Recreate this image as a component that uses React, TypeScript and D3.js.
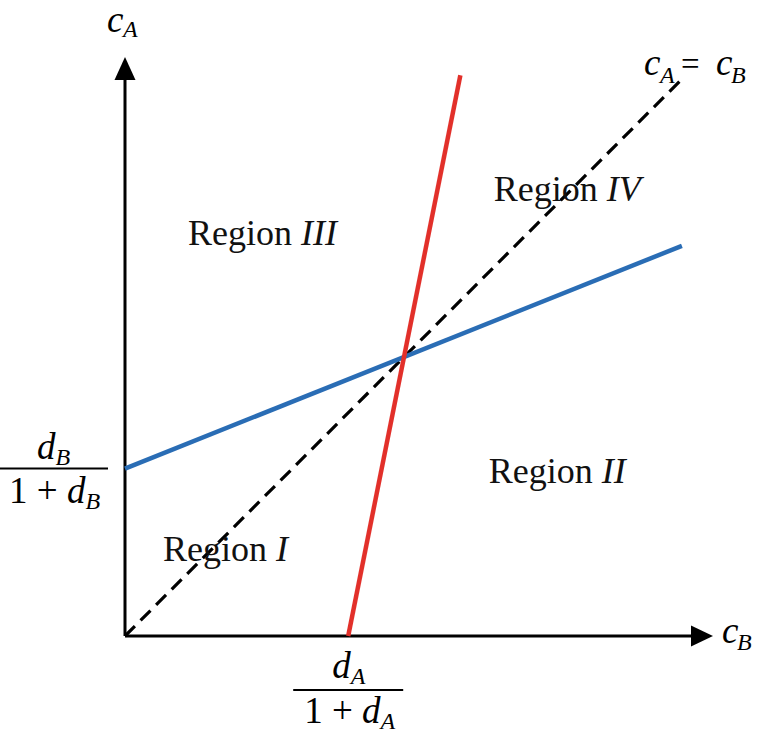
import React from "react";
import * as d3 from "d3";

const W = 759, H = 738;
// abstract units: c_B on x, c_A on y
const dAfrac = [0.4];          // d_A/(1+d_A)
const dBfrac = [0.3];          // d_B/(1+d_B)
const redLine = [[0.4, 0], [0.601, 1.005]];
const blueLine = [[0, 0.3], [0.998, 0.6992]];
const diagLine = [[0, 0], [1.0, 1.0]];
const regions = [
  { name: "Region ", roman: "III", x: 0.113, y: 0.701 },
  { name: "Region ", roman: "IV", x: 0.661, y: 0.78 },
  { name: "Region ", roman: "II", x: 0.652, y: 0.274 },
  { name: "Region ", roman: "I", x: 0.068, y: 0.134 },
];

const x = d3.scaleLinear().domain([0, 1]).range([125, 683]);
const y = d3.scaleLinear().domain([0, 1]).range([636, 78]);
const line = d3.line<number[]>().x(d => x(d[0])).y(d => y(d[1]));

const FONT = "'Liberation Serif', 'Times New Roman', serif";

export default function App() {
  const ox = x(0), oy = y(0);
  return (
    <svg width={W} height={H} style={{ position: "absolute", left: 0, top: 0 }} fontFamily={FONT}>
      <rect width={W} height={H} fill="#fff" />
      {/* axes */}
      <line x1={ox} y1={oy} x2={694} y2={oy} stroke="#000" strokeWidth={3} />
      <line x1={ox} y1={oy} x2={ox} y2={78} stroke="#000" strokeWidth={3} />
      <path d={`M${ox - 10.5},${80} L${ox},${57} L${ox + 10.5},${80} Z`} fill="#000" />
      <path d={`M${691},${oy - 10.5} L${713},${oy} L${691},${oy + 10.5} Z`} fill="#000" />
      {/* lines */}
      <path d={line(diagLine as any)!} fill="none" stroke="#000" strokeWidth={3.2} strokeDasharray="14 8" />
      <path d={line(blueLine as any)!} fill="none" stroke="#2a6db5" strokeWidth={4.5} />
      <path d={line(redLine as any)!} fill="none" stroke="#e2302a" strokeWidth={4.5} />
      {/* region labels */}
      {regions.map((r, i) => (
        <text key={i} x={x(r.x)} y={y(r.y)} fontSize={36} fill="#111">
          {r.name}<tspan fontStyle="italic">{r.roman}</tspan>
        </text>
      ))}
      {/* axis labels */}
      <text x={107} y={32} fontSize={37} fontStyle="italic">c</text>
      <text x={123} y={37} fontSize={24} fontStyle="italic">A</text>
      <text x={722} y={643} fontSize={37} fontStyle="italic">c</text>
      <text x={737} y={650} fontSize={24} fontStyle="italic">B</text>
      <text x={644} y={75} fontSize={37} fontStyle="italic">c</text>
      <text x={660} y={83} fontSize={24} fontStyle="italic">A</text>
      <text x={681} y={75} fontSize={33}>=</text>
      <text x={716} y={75} fontSize={37} fontStyle="italic">c</text>
      <text x={731} y={83} fontSize={24} fontStyle="italic">B</text>
      {/* left fraction d_B/(1+d_B) */}
      <g transform={`translate(0, ${y(dBfrac[0])})`}>
        <text x={37} y={-10} fontSize={37} fontStyle="italic">d<tspan fontSize={24} dy={6}>B</tspan></text>
        <line x1={0} x2={108} y1={0} y2={0} stroke="#000" strokeWidth={2} />
        <text x={9} y={34} fontSize={37}>1 + <tspan fontStyle="italic">d</tspan><tspan fontSize={24} dy={6} fontStyle="italic">B</tspan></text>
      </g>
      {/* bottom fraction d_A/(1+d_A) */}
      <g transform={`translate(${x(dAfrac[0])}, 0)`}>
        <text x={-16} y={678} fontSize={37} fontStyle="italic">d<tspan fontSize={24} dy={6}>A</tspan></text>
        <line x1={-55} x2={55} y1={690} y2={690} stroke="#000" strokeWidth={2} />
        <text x={-44} y={723} fontSize={37}>1 + <tspan fontStyle="italic">d</tspan><tspan fontSize={24} dy={6} fontStyle="italic">A</tspan></text>
      </g>
    </svg>
  );
}
